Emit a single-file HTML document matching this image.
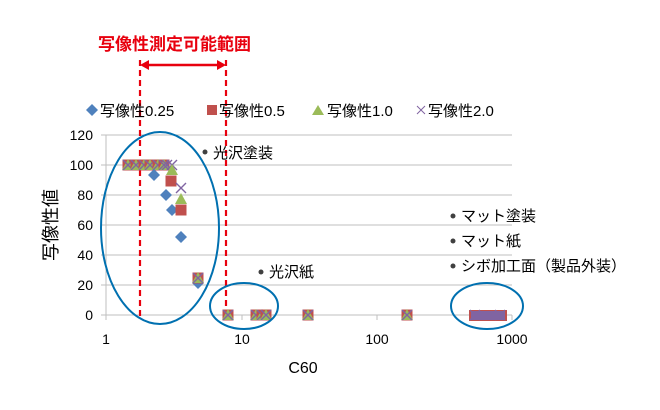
<!DOCTYPE html>
<html><head><meta charset="utf-8"><style>
html,body{margin:0;padding:0;background:#fff}
svg{display:block;font-family:"Liberation Sans","Noto Sans CJK JP",sans-serif}
</style></head><body>
<svg width="660" height="410" viewBox="0 0 660 410" xmlns="http://www.w3.org/2000/svg">
<defs>
<g id="sq"><rect x="-5.5" y="-5.5" width="11" height="11" fill="#c0504d"/></g>
<g id="tr"><polygon points="0,-6 6,5 -6,5" fill="#9bbb59"/></g>
<g id="xx"><path d="M-5,-5L5,5M5,-5L-5,5" stroke="#8064a2" stroke-width="1.4"/></g>
<g id="dm"><polygon points="0,-6 6,0 0,6 -6,0" fill="#4f81bd"/></g>
<g id="all"><use href="#sq"/><use href="#tr"/><use href="#xx"/></g>
</defs>
<g stroke="#bfbfbf" stroke-width="1">
<line x1="101" y1="135" x2="512" y2="135"/><line x1="101" y1="165" x2="512" y2="165"/>
<line x1="101" y1="195" x2="512" y2="195"/><line x1="101" y1="225" x2="512" y2="225"/>
<line x1="101" y1="255" x2="512" y2="255"/><line x1="101" y1="285" x2="512" y2="285"/>
<line x1="101" y1="315" x2="512" y2="315"/>
<line x1="106" y1="135" x2="106" y2="320"/>
<line x1="242" y1="315" x2="242" y2="320"/><line x1="377" y1="315" x2="377" y2="320"/><line x1="512" y1="315" x2="512" y2="320"/>
</g>
<g font-size="14" fill="#000" text-anchor="end">
<text x="93" y="140">120</text><text x="93" y="170">100</text><text x="93" y="200">80</text>
<text x="93" y="230">60</text><text x="93" y="260">40</text><text x="93" y="290">20</text><text x="93" y="320">0</text>
</g>
<g font-size="14" text-anchor="middle">
<text x="106" y="344">1</text><text x="242" y="344">10</text><text x="377" y="344">100</text><text x="512" y="344">1000</text>
<text x="303" y="373" font-size="16">C60</text>
</g>
<text transform="translate(57,225) rotate(-90)" font-size="18" text-anchor="middle">写像性値</text>
<text x="98" y="50" font-size="17" fill="#e8000e" font-weight="bold">写像性測定可能範囲</text>
<g stroke="#e8000e" stroke-width="2.2" stroke-dasharray="6,4">
<line x1="140" y1="60" x2="140" y2="318"/><line x1="226" y1="60" x2="226" y2="318"/>
</g>
<line x1="146" y1="65" x2="220" y2="65" stroke="#e8000e" stroke-width="2.5"/>
<polygon points="140,65 149,60 149,70" fill="#e8000e"/>
<polygon points="226,65 217,60 217,70" fill="#e8000e"/>
<g font-size="15">
<use href="#dm" x="92" y="110"/>
<text x="100" y="116">写像性0.25</text>
<rect x="207" y="105" width="10" height="10" fill="#c0504d"/><text x="219" y="116">写像性0.5</text>
<polygon points="318,105 324,115 312,115" fill="#9bbb59"/><text x="327" y="116">写像性1.0</text>
<path d="M417,106L425,114M425,106L417,114" stroke="#8064a2" stroke-width="1"/><text x="428" y="116">写像性2.0</text>
</g>
<use href="#all" x="128" y="165"/><use href="#all" x="136" y="165"/><use href="#all" x="144" y="165"/>
<use href="#all" x="150" y="165"/><use href="#all" x="158" y="165"/><use href="#all" x="164" y="165"/>
<use href="#dm" x="154" y="175"/>
<use href="#xx" x="172" y="165"/><use href="#xx" x="167" y="165"/>
<use href="#sq" x="171" y="181"/><use href="#tr" x="172" y="170"/>
<use href="#dm" x="166" y="195"/>
<use href="#xx" x="181" y="188"/>
<use href="#tr" x="181" y="199"/>
<use href="#dm" x="172" y="210"/><use href="#sq" x="181" y="210"/>
<use href="#dm" x="181" y="237"/>
<use href="#dm" x="198" y="283"/><use href="#all" x="198" y="278"/>
<use href="#all" x="228" y="315"/>
<use href="#all" x="256" y="315"/><use href="#all" x="262" y="315"/><use href="#all" x="266" y="315"/>
<use href="#all" x="308" y="315"/><use href="#all" x="407" y="315"/>
<rect x="469" y="310" width="38" height="11" fill="#c0504d"/>
<rect x="471" y="311" width="34" height="9" fill="#8064a2"/>
<use href="#xx" x="475" y="315"/><use href="#xx" x="500" y="315"/>
<g fill="none" stroke="#0070b0" stroke-width="2">
<ellipse cx="160" cy="228" rx="59" ry="96"/>
<ellipse cx="244" cy="306" rx="34" ry="23"/>
<ellipse cx="487" cy="306" rx="36" ry="23"/>
</g>
<g font-size="15">
<circle cx="205" cy="152" r="2.5" fill="#404040"/><text x="213" y="158">光沢塗装</text>
<circle cx="261" cy="272" r="2.5" fill="#404040"/><text x="269" y="277">光沢紙</text>
<circle cx="453" cy="216" r="2.5" fill="#404040"/><text x="461" y="221">マット塗装</text>
<circle cx="453" cy="241" r="2.5" fill="#404040"/><text x="461" y="246">マット紙</text>
<circle cx="453" cy="266" r="2.5" fill="#404040"/><text x="461" y="271">シボ加工面（製品外装）</text>
</g>
</svg>
</body></html>
